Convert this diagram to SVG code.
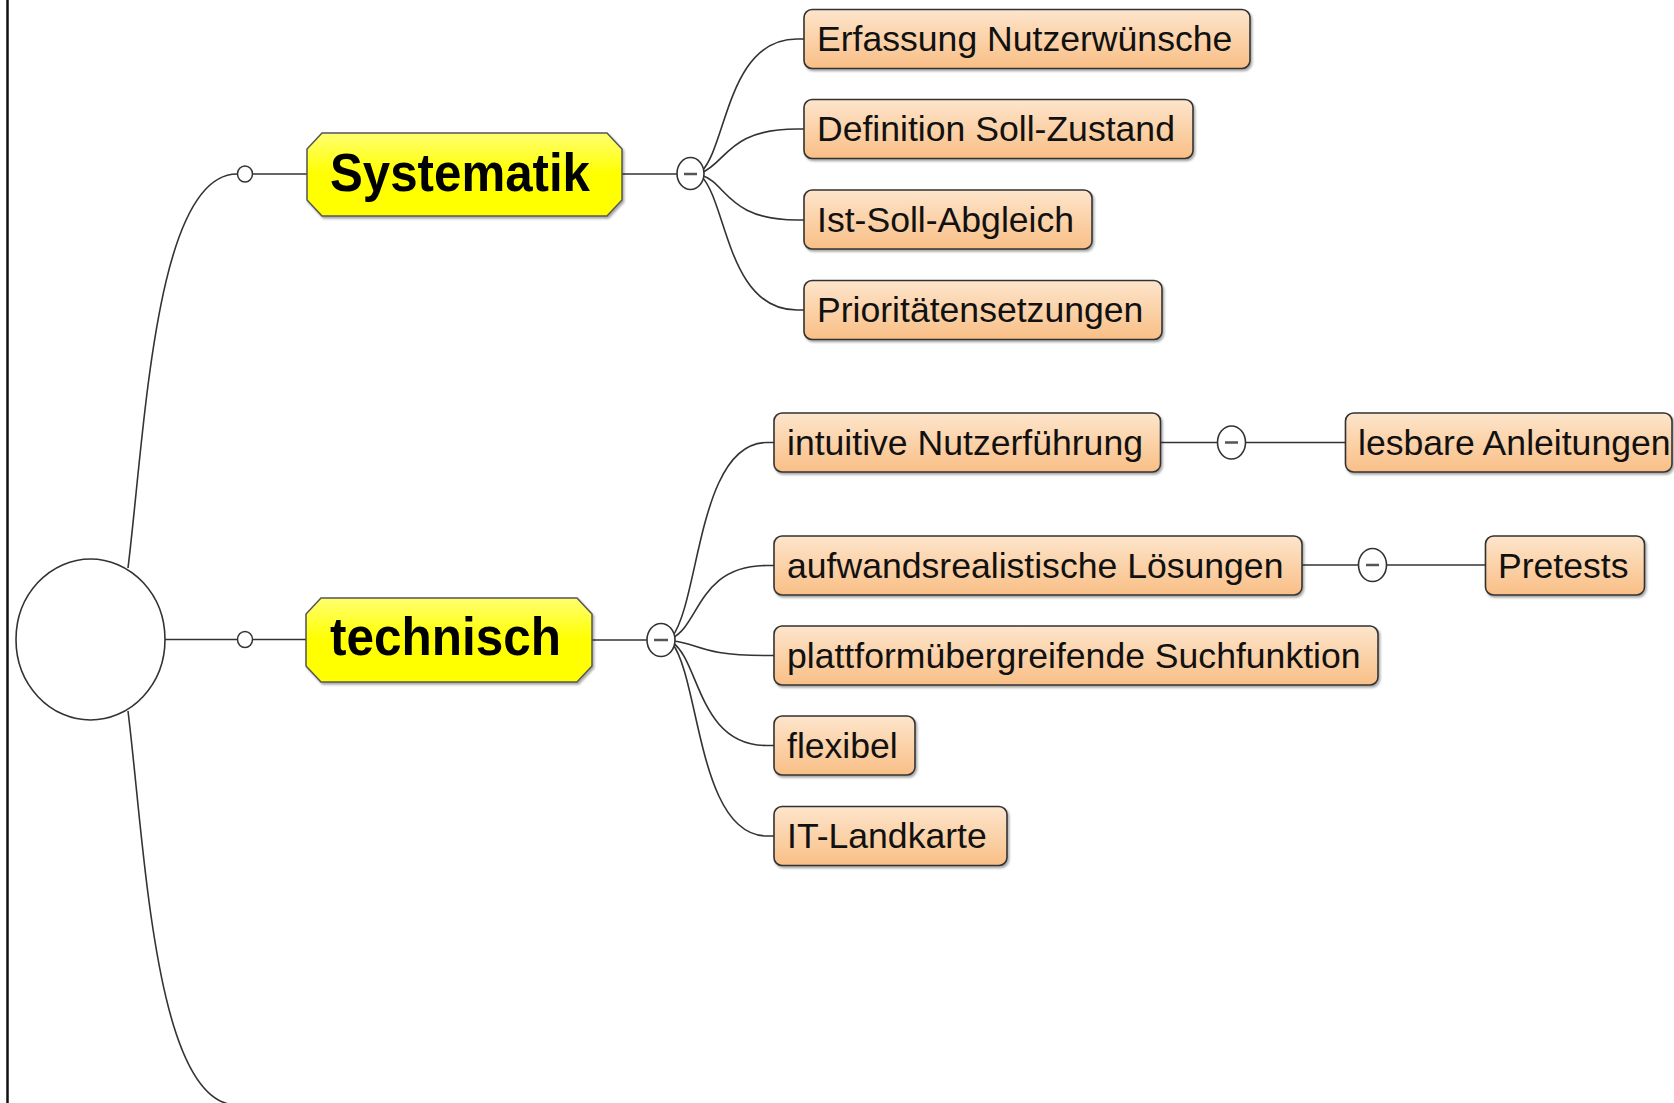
<svg xmlns="http://www.w3.org/2000/svg" width="1674" height="1103" viewBox="0 0 1674 1103">
<defs>
<linearGradient id="gy" x1="0" y1="0" x2="0" y2="1">
<stop offset="0" stop-color="#ffff70"/>
<stop offset="0.5" stop-color="#ffff00"/>
<stop offset="1" stop-color="#ffff00"/>
</linearGradient>
<linearGradient id="go" x1="0" y1="0" x2="0" y2="1">
<stop offset="0" stop-color="#fde5cc"/>
<stop offset="1" stop-color="#f9bf86"/>
</linearGradient>
<filter id="sh" x="-5%" y="-10%" width="110%" height="130%">
<feDropShadow dx="1.5" dy="2" stdDeviation="1.2" flood-color="#000" flood-opacity="0.35"/>
</filter>
</defs>
<style>
.ln{fill:none;stroke:#333;stroke-width:1.6}
.title{fill:url(#gy);stroke:#555;stroke-width:1.5}
.tt{font-family:"Liberation Sans",Arial,sans-serif;font-weight:bold;font-size:53px;fill:#000}
.box{fill:url(#go);stroke:#333;stroke-width:1.6}
.bt{font-family:"Liberation Sans",Arial,sans-serif;font-size:35.6px;fill:#111}
.cc{fill:#fff;stroke:#333;stroke-width:1.6}
.mn{stroke:#555;stroke-width:2.5}
</style>
<rect width="1674" height="1103" fill="#fff"/>
<line x1="7.5" y1="0" x2="7.5" y2="1103" stroke="#111" stroke-width="2.5"/>

<g id="connectors">
<path class="ln" d="M128 568 C145 430 155 174 237 174"/>
<path class="ln" d="M128 711 C145 849 155 1105 237 1105"/>
<line class="ln" x1="165" y1="639.5" x2="237" y2="639.5" stroke="#666" stroke-width="2.2"/>
<line class="ln" x1="253" y1="174" x2="307" y2="174"/>
<line class="ln" x1="253" y1="639.5" x2="306" y2="639.5"/>
<line class="ln" x1="622" y1="174" x2="677" y2="174"/>
<line class="ln" x1="592" y1="640" x2="647" y2="640"/>
<path class="ln" d="M701 172 C727 147 727 39 797 39 L804 39"/>
<path class="ln" d="M701 173 C727 163 727 129 797 129 L804 129"/>
<path class="ln" d="M701 175 C727 183 727 220 797 220 L804 220"/>
<path class="ln" d="M701 176 C727 201 727 310 797 310 L804 310"/>
<path class="ln" d="M672 637 C700 600 698 442.5 767 442.5 L774 442.5"/>
<path class="ln" d="M672 638 C700 625 698 565.5 767 565.5 L774 565.5"/>
<path class="ln" d="M672 641 C700 643 698 655.5 767 655.5 L774 655.5"/>
<path class="ln" d="M672 642 C700 661 698 745.5 767 745.5 L774 745.5"/>
<path class="ln" d="M672 643 C700 679 698 836 767 836 L774 836"/>
<line class="ln" x1="1160.5" y1="442.5" x2="1217.5" y2="442.5"/>
<line class="ln" x1="1245.5" y1="442.5" x2="1345.5" y2="442.5"/>
<line class="ln" x1="1302" y1="565" x2="1358.5" y2="565"/>
<line class="ln" x1="1386.5" y1="565" x2="1485.5" y2="565"/>
</g>

<g id="root">
<ellipse cx="90.5" cy="639.5" rx="74.5" ry="80.5" fill="#fff" stroke="#333" stroke-width="1.6"/>
</g>

<g id="joint-systematik">
<ellipse cx="245" cy="174" rx="7.5" ry="8" fill="#fff" stroke="#333" stroke-width="1.5"/>
</g>
<g id="joint-technisch">
<ellipse cx="245" cy="639.5" rx="7.5" ry="8" fill="#fff" stroke="#333" stroke-width="1.5"/>
</g>

<g id="node-systematik">
<polygon class="title" filter="url(#sh)" points="322,133 607,133 622,149 622,200 607,216 322,216 307,200 307,149"/>
<text class="tt" x="330" y="191" textLength="260" lengthAdjust="spacingAndGlyphs">Systematik</text>
</g>
<g id="node-technisch">
<polygon class="title" filter="url(#sh)" points="321,598 577,598 592,614 592,666 577,682 321,682 306,666 306,614"/>
<text class="tt" x="330" y="655" textLength="231" lengthAdjust="spacingAndGlyphs">technisch</text>
</g>

<g id="toggle-systematik">
<ellipse class="cc" cx="690.5" cy="173.5" rx="13.5" ry="16"/>
<line class="mn" x1="684" y1="174" x2="697" y2="174"/>
</g>
<g id="toggle-technisch">
<ellipse class="cc" cx="661" cy="640" rx="14" ry="16.5"/>
<line class="mn" x1="654" y1="640" x2="668" y2="640"/>
</g>
<g id="toggle-intuitive">
<ellipse class="cc" cx="1231.5" cy="442.5" rx="14" ry="16.5"/>
<line class="mn" x1="1225" y1="442.5" x2="1238" y2="442.5"/>
</g>
<g id="toggle-aufwand">
<ellipse class="cc" cx="1372.5" cy="565" rx="14" ry="16.5"/>
<line class="mn" x1="1366" y1="565" x2="1379" y2="565"/>
</g>

<g id="node-erfassung">
<rect class="box" filter="url(#sh)" x="804" y="9.5" width="446" height="59" rx="8"/>
<text class="bt" x="817" y="51">Erfassung Nutzerwünsche</text>
</g>
<g id="node-definition">
<rect class="box" filter="url(#sh)" x="804" y="99.5" width="389" height="59" rx="8"/>
<text class="bt" x="817" y="141">Definition Soll-Zustand</text>
</g>
<g id="node-istsoll">
<rect class="box" filter="url(#sh)" x="804" y="190" width="288" height="59" rx="8"/>
<text class="bt" x="817" y="231.5">Ist-Soll-Abgleich</text>
</g>
<g id="node-prioritaeten">
<rect class="box" filter="url(#sh)" x="804" y="280.5" width="358" height="59" rx="8"/>
<text class="bt" x="817" y="322">Prioritätensetzungen</text>
</g>

<g id="node-intuitive">
<rect class="box" filter="url(#sh)" x="774" y="413" width="386.5" height="59" rx="8"/>
<text class="bt" x="787" y="455">intuitive Nutzerführung</text>
</g>
<g id="node-aufwand">
<rect class="box" filter="url(#sh)" x="774" y="536" width="528" height="59" rx="8"/>
<text class="bt" x="787" y="577.5">aufwandsrealistische Lösungen</text>
</g>
<g id="node-plattform">
<rect class="box" filter="url(#sh)" x="774" y="626" width="604" height="59" rx="8"/>
<text class="bt" x="787" y="667.5">plattformübergreifende Suchfunktion</text>
</g>
<g id="node-flexibel">
<rect class="box" filter="url(#sh)" x="774" y="716" width="141" height="59" rx="8"/>
<text class="bt" x="787" y="757.5">flexibel</text>
</g>
<g id="node-itlandkarte">
<rect class="box" filter="url(#sh)" x="774" y="806.5" width="233" height="59" rx="8"/>
<text class="bt" x="787" y="848">IT-Landkarte</text>
</g>

<g id="node-lesbare">
<rect class="box" filter="url(#sh)" x="1345.5" y="413" width="326.5" height="59" rx="8"/>
<text class="bt" x="1358" y="455">lesbare Anleitungen</text>
</g>
<g id="node-pretests">
<rect class="box" filter="url(#sh)" x="1485.5" y="536" width="159" height="59" rx="8"/>
<text class="bt" x="1498" y="577.5">Pretests</text>
</g>
</svg>
